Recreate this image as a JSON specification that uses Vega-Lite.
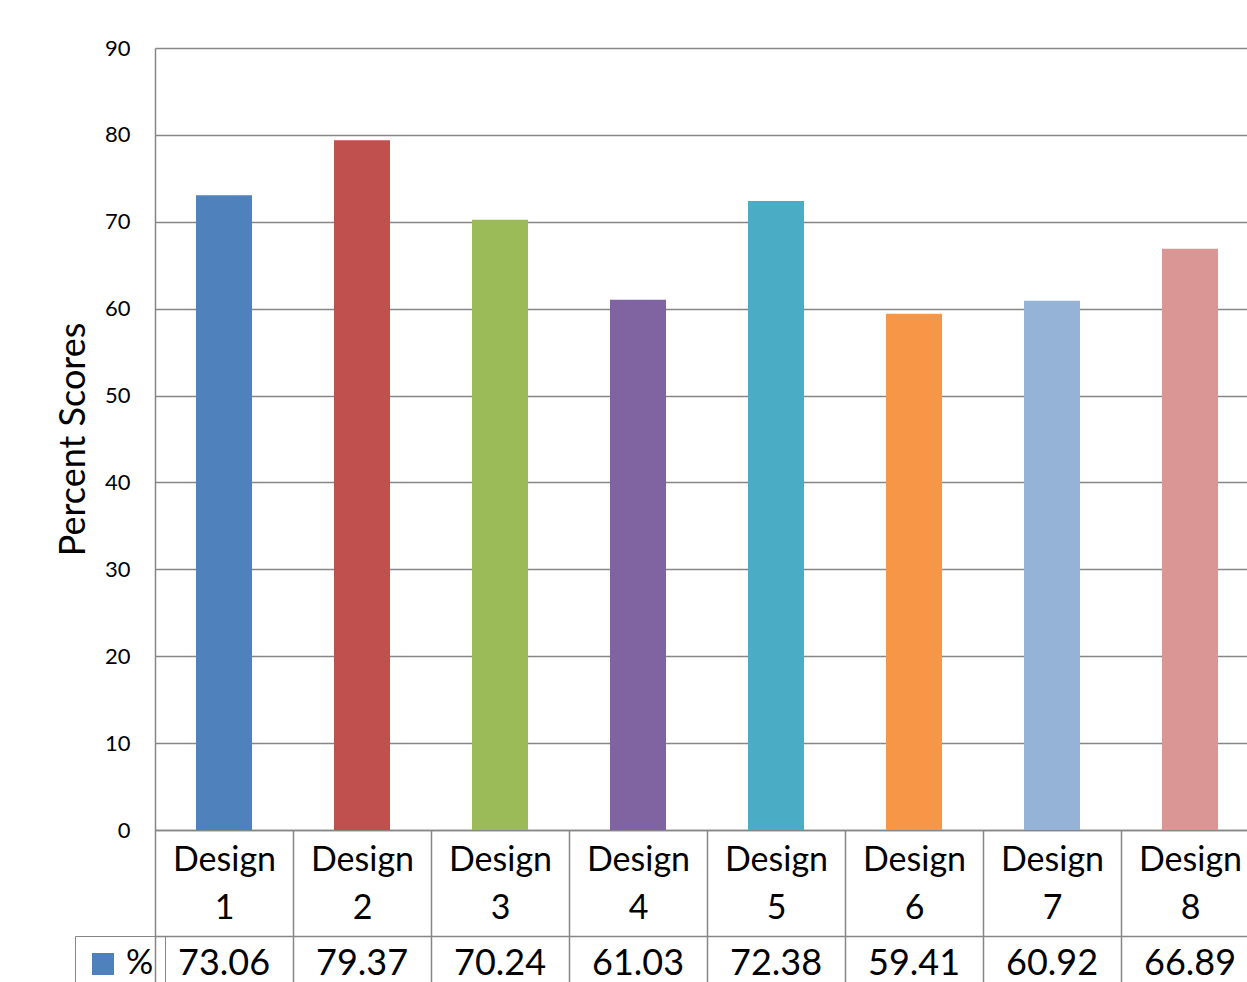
{
  "$schema": "https://vega.github.io/schema/vega-lite/v6.json",
  "autosize": {"type": "none"},
  "width": 1092,
  "height": 782,
  "padding": {"left": 155, "top": 48, "right": 0, "bottom": 152},
  "background": "white",
  "config": {"font": "Lato", "view": {"stroke": null}},
  "data": {"values": [
    {"design": "Design 1", "pct": 73.06},
    {"design": "Design 2", "pct": 79.37},
    {"design": "Design 3", "pct": 70.24},
    {"design": "Design 4", "pct": 61.03},
    {"design": "Design 5", "pct": 72.38},
    {"design": "Design 6", "pct": 59.41},
    {"design": "Design 7", "pct": 60.92},
    {"design": "Design 8", "pct": 66.89}
  ]},
  "layer": [
    {
      "mark": {"type": "bar", "width": {"band": 0.406}},
      "encoding": {
        "x": {"field": "design", "type": "nominal", "sort": null,
          "scale": {"range": [0, 1104], "paddingInner": 0, "paddingOuter": 0},
          "axis": {"title": null, "labelExpr": "split(datum.label, ' ')", "labelAngle": 0,
            "labelFontSize": 34, "labelLineHeight": 48, "labelColor": "black", "labelPadding": -139,
            "labelBaseline": "top", "labelLimit": 0, "labelOverlap": false, "labelBound": false,
            "domainColor": "#868686", "domainWidth": 1.5,
            "tickBand": "extent", "tickSize": 152, "tickColor": "#868686", "tickWidth": 1.5, "grid": false}},
        "y": {"field": "pct", "type": "quantitative",
          "scale": {"domain": [0, 90]},
          "axis": {"title": "Percent Scores", "values": [0, 10, 20, 30, 40, 50, 60, 70, 80, 90],
            "titleFontSize": 36, "titleFontWeight": "normal", "titleColor": "black", "titlePadding": 12,
            "labelFontSize": 22, "labelPadding": 25, "labelColor": "black", "ticks": false,
            "gridColor": "#868686", "gridWidth": 1.5, "domainColor": "#868686", "domainWidth": 1.5}},
        "fill": {"field": "design", "type": "nominal", "sort": null,
          "scale": {"range": ["#4F81BD", "#C0504D", "#9BBB59", "#8064A2", "#4BACC6", "#F79646", "#95B3D7", "#D99694"]},
          "legend": null}
      }
    },
    {
      "mark": {"type": "text", "fontSize": 36, "baseline": "alphabetic", "dy": 145, "fill": "black"},
      "encoding": {
        "x": {"field": "design", "type": "nominal", "sort": null,
          "axis": {"orient": "bottom", "offset": 106, "labels": false, "ticks": false, "title": null,
            "domainColor": "#868686", "domainWidth": 1.5, "grid": false}},
        "y": {"datum": 0, "type": "quantitative", "axis": null},
        "text": {"field": "pct", "type": "quantitative", "format": ".2f"}
      }
    },
    {
      "mark": {"type": "square", "size": 0},
      "encoding": {
        "x": {"field": "design", "type": "nominal", "sort": null, "axis": null},
        "y": {"datum": 0, "type": "quantitative", "axis": null},
        "fill": {"datum": "%", "type": "nominal", "scale": {"range": ["#4F81BD"]},
          "legend": {"title": null, "orient": "none", "legendX": -80, "legendY": 888,
            "padding": 11, "strokeColor": "#868686", "symbolType": "square", "symbolSize": 484,
            "symbolStrokeWidth": 0, "symbolOpacity": 1,
            "labelFontSize": 34, "labelColor": "black", "labelOffset": 6}}
      }
    }
  ],
  "resolve": {"axis": {"x": "independent", "y": "independent"}, "scale": {"fill": "independent"}}
}
